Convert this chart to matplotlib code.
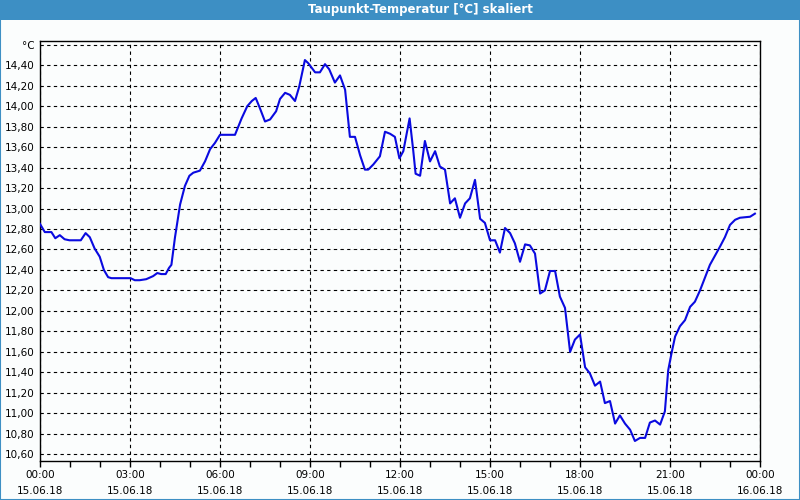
import matplotlib
matplotlib.use("Agg")
import matplotlib.pyplot as plt
from matplotlib.patches import Rectangle

title = "Taupunkt-Temperatur [°C] skaliert"

hours = [0.0, 0.16, 0.38, 0.51, 0.66, 0.82, 0.98, 1.36, 1.52, 1.66, 1.82, 1.99,
         2.13, 2.27, 2.38, 3.02, 3.16, 3.32, 3.54, 3.77, 3.91, 4.04, 4.19, 4.30,
         4.38, 4.50, 4.67, 4.83, 4.98, 5.11, 5.33, 5.50, 5.67, 5.83, 6.0, 6.5,
         6.72, 6.91, 7.06, 7.19, 7.33, 7.5, 7.67, 7.87, 8.0, 8.17, 8.33, 8.5,
         8.64, 8.83, 8.94, 9.17, 9.33, 9.5, 9.64, 9.83, 10.0, 10.17, 10.33, 10.5,
         10.67, 10.83, 10.94, 11.11, 11.33, 11.5, 11.67, 11.83, 11.98, 12.11,
         12.32, 12.44, 12.52, 12.67, 12.83, 13.0, 13.17, 13.33, 13.5, 13.67,
         13.83, 14.0, 14.17, 14.33, 14.5, 14.67, 14.83, 15.0, 15.17, 15.33,
         15.5, 15.67, 15.83, 16.0, 16.17, 16.33, 16.5, 16.67, 16.83, 17.0,
         17.17, 17.33, 17.5, 17.67, 17.83, 18.0, 18.17, 18.33, 18.5, 18.67,
         18.83, 19.0, 19.17, 19.33, 19.5, 19.67, 19.83, 20.0, 20.17, 20.33,
         20.5, 20.67, 20.83, 20.94, 21.06, 21.17, 21.33, 21.5, 21.67, 21.83,
         22.0, 22.17, 22.33, 22.5, 22.67, 22.83, 23.0, 23.17, 23.33, 23.67, 23.83]

dewpoint = [12.85, 12.77, 12.77, 12.71, 12.74, 12.70, 12.69, 12.69, 12.76, 12.72, 12.61, 12.53,
            12.40, 12.33, 12.32, 12.32, 12.30, 12.30, 12.31, 12.34, 12.37, 12.36, 12.36, 12.42,
            12.45, 12.72, 13.04, 13.22, 13.32, 13.35, 13.37, 13.46, 13.58, 13.64, 13.72, 13.72,
            13.88, 14.00, 14.05, 14.08, 13.98, 13.85, 13.87, 13.95, 14.07, 14.13, 14.11, 14.05,
            14.19, 14.45, 14.42, 14.33, 14.33, 14.41, 14.36, 14.23, 14.30, 14.16, 13.70, 13.70,
            13.52, 13.38, 13.38, 13.43, 13.51, 13.75, 13.73, 13.70, 13.49, 13.56,
            13.88, 13.57, 13.34, 13.32, 13.66, 13.46, 13.56, 13.41, 13.38, 13.05,
            13.10, 12.91, 13.05, 13.10, 13.28, 12.90, 12.86, 12.69, 12.69, 12.57,
            12.81, 12.76, 12.66, 12.48, 12.65, 12.64, 12.56, 12.17, 12.20, 12.39,
            12.39, 12.14, 12.03, 11.60, 11.72, 11.77, 11.45, 11.39, 11.27, 11.31,
            11.10, 11.12, 10.90, 10.98, 10.90, 10.84, 10.73, 10.76, 10.76, 10.91,
            10.93, 10.89, 11.02, 11.42, 11.60, 11.75, 11.85, 11.91, 12.04, 12.09,
            12.20, 12.33, 12.45, 12.54, 12.63, 12.72, 12.84, 12.89, 12.91, 12.92, 12.95]

x_ticks = [0, 3, 6, 9, 12, 15, 18, 21, 24]
x_tick_labels = ["00:00\n15.06.18", "03:00\n15.06.18", "06:00\n15.06.18",
                 "09:00\n15.06.18", "12:00\n15.06.18", "15:00\n15.06.18",
                 "18:00\n15.06.18", "21:00\n15.06.18", "00:00\n16.06.18"]
y_ticks = [10.6, 10.8, 11.0, 11.2, 11.4, 11.6, 11.8, 12.0, 12.2, 12.4, 12.6,
           12.8, 13.0, 13.2, 13.4, 13.6, 13.8, 14.0, 14.2, 14.4, 14.6]
y_unit = "°C"

bg = "#fbfdfd"
bar_color = "#3d8fc4"

fig = plt.figure(figsize=(8, 5), dpi=100, facecolor=bg)

# title bar
fig.patches.append(Rectangle((0, 480/500), 1, 20/500, transform=fig.transFigure,
                             facecolor=bar_color, edgecolor="none", zorder=0))
# outer border
fig.patches.append(Rectangle((0.0006, 0.001), 0.9988, 0.998, transform=fig.transFigure,
                             facecolor="none", edgecolor=bar_color, linewidth=1.5, zorder=1))
fig.text(420/800, 490/500, title, color="white", fontsize=8.5, fontweight="bold",
         ha="center", va="center")

ax = fig.add_axes([40/800, 1 - 460.7/500, 720/800, 420/500])
ax.set_facecolor(bg)
ax.plot(hours, dewpoint, color="#0a0ae0", linewidth=1.5, zorder=3)

ax.set_xlim(0, 24)
ax.set_ylim(10.5375, 14.639)

ax.set_xticks(x_ticks)
ax.set_xticklabels(x_tick_labels, fontsize=7.5, linespacing=1.75)
ax.set_xticks(range(0, 25), minor=True)
ax.tick_params(axis="x", which="both", direction="out", length=4, width=1, pad=3)

ax.set_yticks(y_ticks)
ax.set_yticklabels([f"{v:.2f}".replace(".", ",") for v in y_ticks[:-1]] + [y_unit],
                   fontsize=7.5)
ax.tick_params(axis="y", length=0, pad=4)

ax.grid(True, which="major", color="black", linestyle=(0, (3, 3)), linewidth=0.8)
for s in ax.spines.values():
    s.set_color("black")
    s.set_linewidth(1)

fig.savefig("out.png", dpi=100, facecolor=bg)
